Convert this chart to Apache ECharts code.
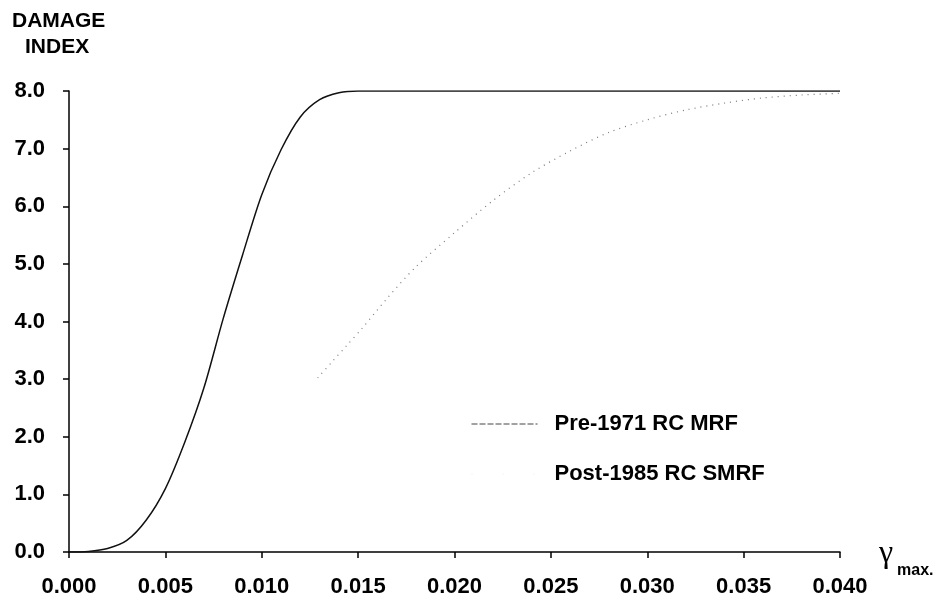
<!DOCTYPE html>
<html>
<head>
<meta charset="utf-8">
<script src="https://cdn.jsdelivr.net/npm/echarts@6/dist/echarts.min.js"></script>
<style>
html,body{margin:0;padding:0;background:#fff;}
#chart{width:940px;height:601px;}
</style>
</head>
<body>
<div id="chart"></div>
<script>
// Data (gamma_max, damage index)
const pre1971Gamma = [0.000, 0.001, 0.002, 0.003, 0.004, 0.005, 0.006, 0.007, 0.008, 0.009, 0.010, 0.011, 0.012, 0.013, 0.014, 0.015, 0.020, 0.025, 0.030, 0.035, 0.040];
const pre1971Damage = [0.00, 0.01, 0.06, 0.20, 0.55, 1.10, 1.90, 2.85, 4.05, 5.15, 6.20, 6.98, 7.55, 7.85, 7.97, 8.00, 8.00, 8.00, 8.00, 8.00, 8.00];
const post1985Gamma = [0.0129, 0.0137, 0.0144, 0.0152, 0.0165, 0.018, 0.020, 0.022, 0.024, 0.026, 0.028, 0.030, 0.032, 0.034, 0.036, 0.038, 0.040];
const post1985Damage = [3.02, 3.32, 3.58, 3.88, 4.40, 4.95, 5.54, 6.10, 6.58, 6.96, 7.28, 7.50, 7.67, 7.79, 7.88, 7.93, 7.96];
const seriesNames = ['Pre-1971 RC MRF', 'Post-1985 RC SMRF'];
const yTitle = ['DAMAGE', 'INDEX'];

const zip = (xs, ys) => xs.map((x, i) => [x, ys[i]]);
const FONT = 'Liberation Sans, Arial, sans-serif';

const chart = echarts.init(document.getElementById('chart'));
chart.setOption({
  animation: false,
  backgroundColor: '#ffffff',
  grid: {left: 69, right: 100, top: 91, bottom: 49},
  xAxis: {
    type: 'value', min: 0, max: 0.04, interval: 0.005,
    axisLine: {show: true, lineStyle: {color: '#000', width: 1.5}},
    axisTick: {show: true, length: 6, lineStyle: {color: '#000', width: 1.5}},
    splitLine: {show: false},
    axisLabel: {margin: 24, color: '#000', fontFamily: FONT, fontSize: 22, fontWeight: 'bold',
      formatter: v => v.toFixed(3)}
  },
  yAxis: {
    type: 'value', min: 0, max: 8, interval: 1,
    axisLine: {show: true, lineStyle: {color: '#000', width: 1.5}},
    axisTick: {show: true, length: 6, lineStyle: {color: '#000', width: 1.5}},
    splitLine: {show: false},
    axisLabel: {margin: 24, color: '#000', fontFamily: FONT, fontSize: 22, fontWeight: 'bold',
      formatter: v => v.toFixed(1)}
  },
  legend: {
    show: true,
    orient: 'vertical', left: 471, top: 413, padding: 0,
    itemGap: 28, itemWidth: 66, itemHeight: 14,
    itemStyle: {opacity: 0},
    textStyle: {color: '#000', fontFamily: FONT, fontSize: 22, fontWeight: 'bold', padding: [0, 0, 0, 12]},
    data: [
      {name: seriesNames[0], lineStyle: {color: '#444', width: 1, type: [6, 2]}},
      {name: seriesNames[1], lineStyle: {color: '#bbb', width: 1, opacity: 0.25, type: [1, 30]}}
    ]
  },
  graphic: [
    {type: 'text', left: 12, top: 11, style: {text: yTitle[0], font: 'bold 21px ' + FONT, fill: '#000'}},
    {type: 'text', left: 25, top: 37, style: {text: yTitle[1], font: 'bold 21px ' + FONT, fill: '#000'}},
    {type: 'text', left: 879, top: 538, style: {text: 'γ', font: '32px Liberation Serif, serif', fill: '#000'}},
    {type: 'text', left: 897, top: 563, style: {text: 'max.', font: 'bold 16px ' + FONT, fill: '#000'}}
  ],
  series: [
    {
      name: seriesNames[0], type: 'line', data: zip(pre1971Gamma, pre1971Damage),
      smooth: 0.3, showSymbol: false, symbol: 'none',
      itemStyle: {color: '#111'},
      lineStyle: {color: '#111', width: 1.5}, z: 3
    },
    {
      name: seriesNames[1], type: 'line', data: zip(post1985Gamma, post1985Damage),
      smooth: 0.3, showSymbol: false, symbol: 'none',
      itemStyle: {color: '#777'},
      lineStyle: {color: '#777', width: 1.2, type: [1, 5]}, z: 2
    }
  ]
});
</script>
</body>
</html>
